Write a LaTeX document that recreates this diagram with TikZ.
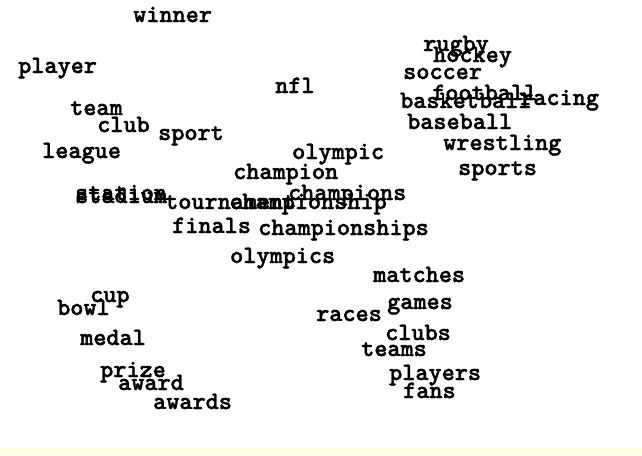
\documentclass[tikz,border=0pt]{standalone}
\usepackage{fontspec}
\newfontfamily\wordfont{lmmonolt10-bold}[Extension=.otf, FakeBold=1.6]
\usepackage{xcolor}
\usetikzlibrary{positioning}
\definecolor{bandyellow}{RGB}{255,253,224}

\begin{document}
\begin{tikzpicture}[x=1pt, y=-1pt,
  word/.style={anchor=west, inner sep=0pt, text height=14pt, text depth=4pt, font=\wordfont\fontsize{25}{25}\selectfont}]
  \useasboundingbox (0,0) rectangle (642,455);
  \fill[white] (0,0) rectangle (642,455);
  \fill[bandyellow] (0,448) rectangle (642,455);
  % top group
  \node[word] (winner) at (133,17) {winner};
  \node[word] (player) at (18,68) {player};
  \node[word] (nfl) at (275,88) {nfl};
  \node[word] (team) at (70,110) {team};
  \node[word] (club) at (97,127) {club};
  \node[word] (sport) at (158,135) {sport};
  \node[word] (league) at (42,153) {league};
  % games
  \node[word] (rugby) at (423,46) {rugby};
  \node[word] (hockey) at (433,57) {hockey};
  \node[word] (soccer) at (403,74) {soccer};
  \node[word] (football) at (432,95) {football};
  \node[word] (basketball) at (400,103) {basketball};
  \node[word] (racing) at (520,100) {racing};
  \node[word] (baseball) at (407,124) {baseball};
  \node[word] (wrestling) at (443,145) {wrestling};
  \node[word] (sports) at (458,170) {sports};
  % middle
  \node[word] (olympic) at (292,154) {olympic};
  \node[word] (champion) at (233,174) {champion};
  \node[word] (station) at (75,195) {station};
  \node[word] (stadium) at (75,198) {stadium};
  \node[word] (tournament) at (165,204) {tournament};
  \node[word] (champions) at (288,195) {champions};
  \node[word] (championship) at (229,204) {championship};
  \node[word] (finals) at (172,228) {finals};
  \node[word] (championships) at (258,230) {championships};
  \node[word] (olympics) at (230,258) {olympics};
  % lower right
  \node[word] (matches) at (373,277) {matches};
  \node[word] (games) at (387,304) {games};
  \node[word] (races) at (316,316) {races};
  \node[word] (clubs) at (385,335) {clubs};
  \node[word] (teams) at (361,351) {teams};
  \node[word] (players) at (389,375) {players};
  \node[word] (fans) at (403,393) {fans};
  % lower left
  \node[word] (cup) at (90,297) {cup};
  \node[word] (bowl) at (57,310) {bowl};
  \node[word] (medal) at (80,340) {medal};
  \node[word] (prize) at (100,372) {prize};
  \node[word] (award) at (118,385) {award};
  \node[word] (awards) at (153,404) {awards};
\end{tikzpicture}
\end{document}
